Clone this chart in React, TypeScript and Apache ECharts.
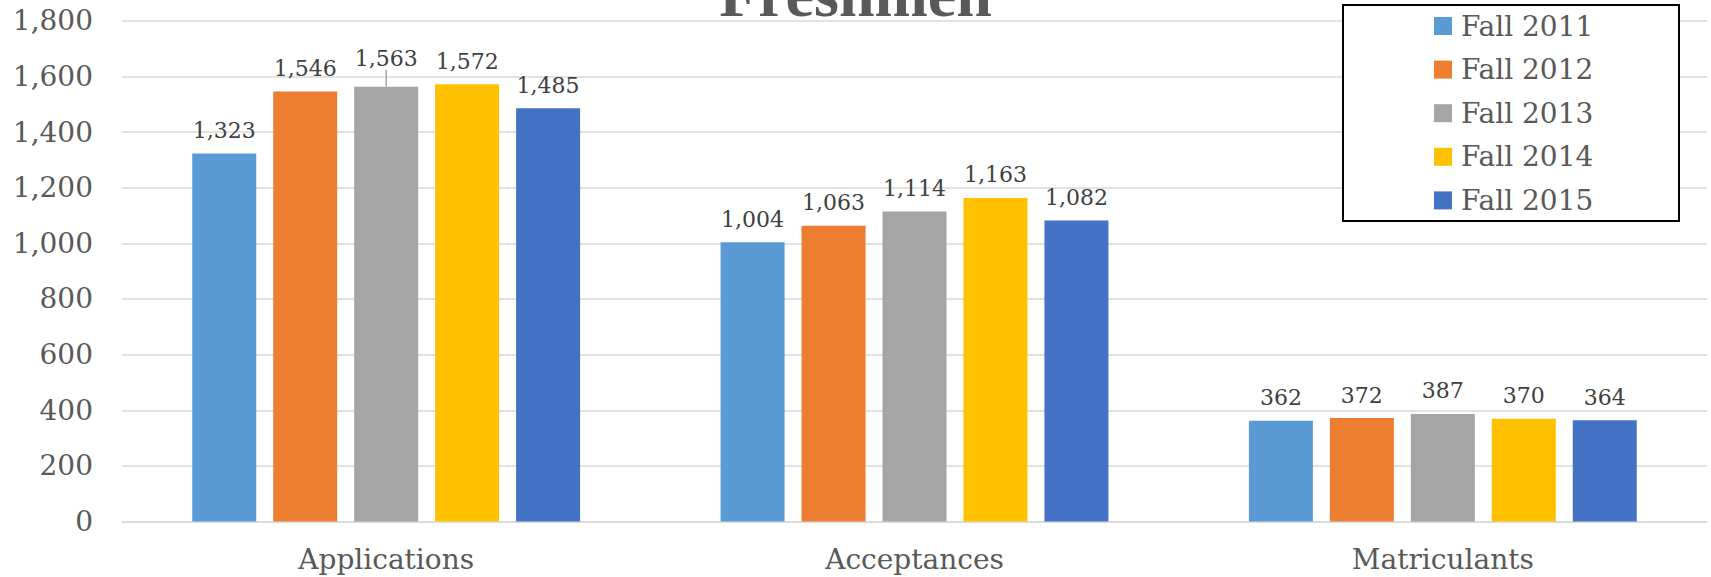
import React, { useEffect, useRef } from "react";
import * as echarts from "echarts";

const categories = ["Applications", "Acceptances", "Matriculants"];
const seriesNames = ["Fall 2011", "Fall 2012", "Fall 2013", "Fall 2014", "Fall 2015"];
const fall2011 = [1323, 1004, 362];
const fall2012 = [1546, 1063, 372];
const fall2013 = [1563, 1114, 387];
const fall2014 = [1572, 1163, 370];
const fall2015 = [1485, 1082, 364];
const colors = ["#5B9BD5", "#ED7D31", "#A5A5A5", "#FFC000", "#4472C4"];
const yTicks = { min: 0, max: 1800, interval: 200 };

const FONT = "DejaVu Serif";
const TEXT = "#595959";

export default function App() {
  const ref = useRef<HTMLDivElement>(null);
  useEffect(() => {
    if (!ref.current) return;
    const chart = echarts.init(ref.current, null, { renderer: "svg" });
    const values = [fall2011, fall2012, fall2013, fall2014, fall2015];
    const fmt = (v: number) => v.toLocaleString("en-US");
    chart.setOption({
      animation: false,
      title: {
        text: "Freshmen",
        left: "center",
        top: -43,
        textStyle: { fontFamily: "Liberation Serif", fontWeight: "bold", fontSize: 64, color: TEXT },
      },
      graphic: {
        elements: [
          {
            type: "rect",
            z: 10,
            shape: { x: 1343, y: 5, width: 336, height: 216 },
            style: { fill: "#ffffff", stroke: "#000000", lineWidth: 2 },
          },
        ],
      },
      legend: {
        z: 20,
        orient: "vertical",
        left: 1434,
        top: 12,
        padding: 0,
        itemWidth: 18,
        itemHeight: 18,
        itemGap: 15.6,
        icon: "rect",
        selectedMode: false,
        data: seriesNames,
        textStyle: { fontFamily: FONT, fontSize: 28, lineHeight: 28, color: TEXT, padding: [0, 0, 0, 4] },
      },
      grid: { left: 122, right: 4, top: 20.7, bottom: 55.4 },
      xAxis: {
        type: "category",
        data: categories,
        axisTick: { show: false },
        axisLine: { lineStyle: { color: "#D9D9D9", width: 1.5 } },
        axisLabel: { fontFamily: FONT, fontSize: 28, color: TEXT, margin: 24 },
      },
      yAxis: {
        type: "value",
        min: yTicks.min,
        max: yTicks.max,
        interval: yTicks.interval,
        axisLine: { show: false },
        axisTick: { show: false },
        splitLine: { lineStyle: { color: "#D9D9D9", width: 1.5 } },
        axisLabel: {
          fontFamily: FONT,
          fontSize: 28,
          color: TEXT,
          margin: 29,
          formatter: (v: number) => fmt(v),
        },
      },
      series: seriesNames.map((name, i) => ({
        name,
        type: "bar",
        data: values[i].map((v, j) =>
          i === 2 && j === 0
            ? { value: v, labelLine: { show: true, lineStyle: { color: "#A5A5A5", width: 1.5 } } }
            : { value: v, labelLine: { show: false } }
        ),
        barWidth: 64,
        barGap: "26.5%",
        itemStyle: { color: colors[i] },
        label: {
          show: true,
          position: "top",
          distance: 12,
          fontFamily: FONT,
          fontSize: 22,
          color: "#404040",
          formatter: (p: any) => fmt(p.value),
        },
        ...(i === 2
          ? {
              labelLayout: (p: any) => (p.dataIndex === 0 ? { dy: -5 } : {}),
            }
          : {}),
      })),
    });
    return () => chart.dispose();
  }, []);
  return (
    <div
      ref={ref}
      style={{ position: "fixed", left: 0, top: 0, width: 1711, height: 577, background: "#ffffff" }}
    />
  );
}
